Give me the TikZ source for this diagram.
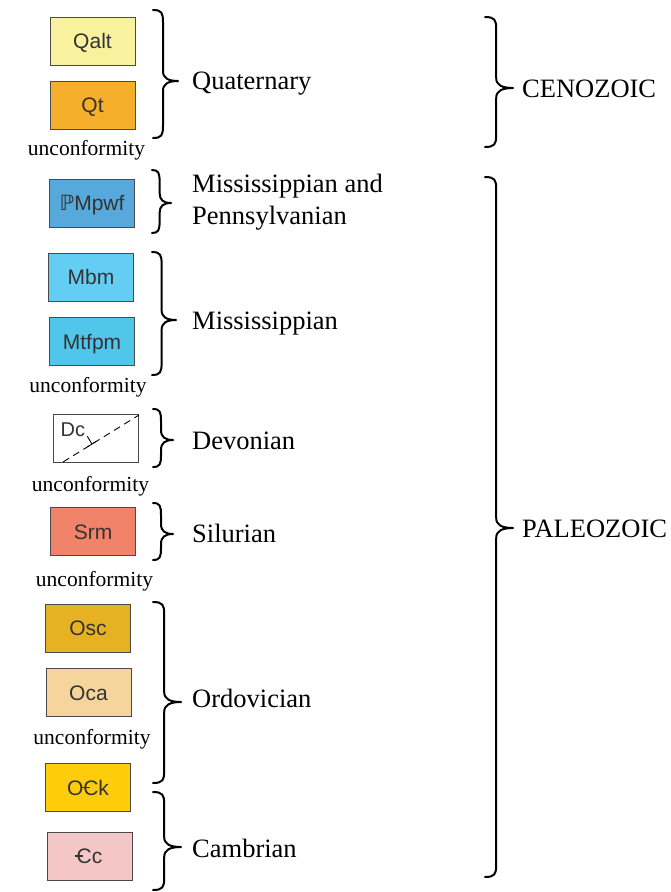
\documentclass[tikz,border=0pt]{standalone}
\usepackage{fontspec}
\usetikzlibrary{calc}
\setmainfont{Liberation Serif}
\newfontfamily\boxfont{Liberation Sans}
\newfontfamily\dvfont{DejaVu Sans}
\definecolor{cQalt}{HTML}{F8F19E}
\definecolor{cQt}{HTML}{F5AF2B}
\definecolor{cPM}{HTML}{57A9DC}
\definecolor{cMbm}{HTML}{63CDF4}
\definecolor{cMtf}{HTML}{50C6EA}
\definecolor{cSrm}{HTML}{F2836B}
\definecolor{cOsc}{HTML}{E6B122}
\definecolor{cOca}{HTML}{F6D59D}
\definecolor{cOCk}{HTML}{FDCC0A}
\definecolor{cCc}{HTML}{F4C7C6}
\definecolor{boxline}{HTML}{4A4A4A}
\definecolor{boxtext}{HTML}{333333}
\newcommand\cambC{\makebox[0pt][l]{\kern-0.06em\rule[0.33em]{0.38em}{0.07em}}C}
\newcommand\gbrace[5]{%
 \draw[bracestyle] (#1,#2) .. controls (#1+0.35*#5,#2) and (#1+0.4*#5,#2+3) .. (#1+0.4*#5,#2+12)
 -- (#1+0.4*#5,#3-10) .. controls (#1+0.4*#5,#3-3) and (#1+0.6*#5,#3) .. (#1+#5,#3)
 .. controls (#1+0.6*#5,#3) and (#1+0.4*#5,#3+3) .. (#1+0.4*#5,#3+10)
 -- (#1+0.4*#5,#4-12) .. controls (#1+0.4*#5,#4-3) and (#1+0.35*#5,#4) .. (#1,#4);}
\tikzset{
 unit/.style={draw=boxline, line width=0.9pt, minimum width=85pt, minimum height=48pt,
   inner sep=0pt, text height=15pt, text depth=0pt, text=boxtext,
   font=\boxfont\fontsize{21}{24}\selectfont},
 bracestyle/.style={line width=2pt, line cap=round, line join=round},
 period/.style={anchor=base west, inner sep=0pt, font=\fontsize{26.5}{32}\selectfont},
 uncon/.style={inner sep=0pt, font=\fontsize{21.5}{25}\selectfont},
}
\begin{document}
\begin{tikzpicture}[x=1pt,y=-1pt]
\useasboundingbox (0,0) rectangle (670,892);
% boxes
\node[unit, fill=cQalt] (qalt) at (92.5,41) {Qalt};
\node[unit, fill=cQt] (qt) at (92.5,105) {Qt};
\node[uncon] (u1) at (86.5,150) {unconformity};
\node[unit, fill=cPM] (pm) at (92,203) {{\dvfont ℙ}Mpwf};
\node[unit, fill=cMbm] (mbm) at (91,277) {Mbm};
\node[unit, fill=cMtf] (mtf) at (92,341.5) {Mtfpm};
\node[uncon] (u2) at (88,387) {unconformity};
\node[unit, fill=white] (dc) at (96,438) {};
\node[uncon] (u3) at (90.5,486) {unconformity};
\node[unit, fill=cSrm] (srm) at (93,531.5) {Srm};
\node[uncon] (u4) at (94.5,581) {unconformity};
\node[unit, fill=cOsc] (osc) at (88,628) {Osc};
\node[unit, fill=cOca] (oca) at (88.5,692.5) {Oca};
\node[uncon] (u5) at (92,739) {unconformity};
\node[unit, fill=cOCk] (ock) at (88,787.5) {O\cambC k};
\node[unit, fill=cCc] (cc) at (89.5,856) {\cambC c};
% Dc box contents
\coordinate (dca) at (63,462);
\coordinate (dcb) at (139,415);
\draw[line width=0.9pt, dash pattern=on 7pt off 5pt] (dca) -- (dcb);
\node[anchor=base west, inner sep=0pt, text=boxtext, font=\boxfont\fontsize{20}{23}\selectfont] (dclab) at (60.5,436) {Dc};
\coordinate (dcp) at (92,444);
\draw[line width=0.9pt] ($(dcp)+(-4.5,2.8)$) -- ($(dcp)+(4.5,-2.8)$);
\draw[line width=0.9pt] (dcp) -- ++(-4.7,-7.7);
% braces
\gbrace{153}{10}{81}{138}{25}
\gbrace{152}{170}{203}{233}{19}
\gbrace{152}{252}{320}{375}{24}
\gbrace{153}{409}{440}{467}{20}
\gbrace{153}{503}{534}{560}{20}
\gbrace{153}{602}{702}{783}{28}
\gbrace{153}{792}{847}{890}{28}
\gbrace{485}{17}{88}{147}{28}
\gbrace{485}{177}{528}{877}{28}
% labels
\node[period] (quat) at (192,89) {Quaternary};
\node[period] (mp1) at (192,192) {Mississippian and};
\node[period] (mp2) at (192,224) {Pennsylvanian};
\node[period] (miss) at (192,329) {Mississippian};
\node[period] (dev) at (192,449) {Devonian};
\node[period] (sil) at (192,542) {Silurian};
\node[period] (ord) at (192,707) {Ordovician};
\node[period] (cam) at (192,857) {Cambrian};
\node[period] (ceno) at (522,97) {CENOZOIC};
\node[period] (paleo) at (522,537) {PALEOZOIC};
\end{tikzpicture}
\end{document}
